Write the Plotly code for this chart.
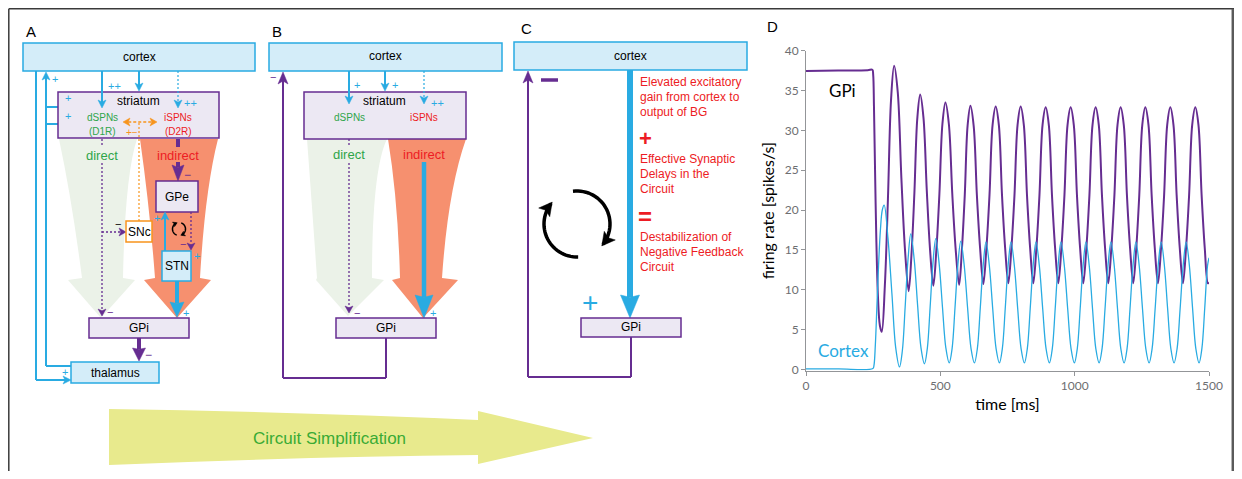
import math
import plotly.graph_objects as go

# page shows the figure with the default 8px body margin
OFF = 8
W, H = 1242 - 2 * OFF, 479 - 2 * OFF

# ---------------- Panel D data ----------------
gpi_t = [0, 120, 230, 247, 250, 253, 257, 262, 268, 275, 282,
         293.5, 305, 316.5, 328, 341.5, 355, 368.5, 382,
         392.75, 403.5, 414.25, 425, 437.25, 449.5, 461.75, 474,
         485.25, 496.5, 507.75, 519, 531.75, 544.5, 557.25, 570,
         580.5, 591, 601.5, 612, 624, 636, 648, 660,
         671.5, 683, 694.5, 706, 717.75, 729.5, 741.25, 753,
         764.5, 776, 787.5, 799, 810.75, 822.5, 834.25, 846,
         857.5, 869, 880.5, 892, 903.75, 915.5, 927.25, 939,
         950.5, 962, 973.5, 985, 996.75, 1008.5, 1020.25, 1032,
         1043.5, 1055, 1066.5, 1078, 1089.75, 1101.5, 1113.25, 1125,
         1136.5, 1148, 1159.5, 1171, 1182.75, 1194.5, 1206.25, 1218,
         1229.25, 1240.5, 1251.75, 1263, 1274.75, 1286.5, 1298.25, 1310,
         1321.5, 1333, 1344.5, 1356, 1367.75, 1379.5, 1391.25, 1403,
         1414.5, 1426, 1437.5, 1449, 1460.75, 1472.5, 1484.25, 1496, 1500]
gpi_v = [37.45, 37.5, 37.55, 37.6, 37.0, 33.0, 25.0, 16.0, 9.0, 5.5, 4.7,
         10.5, 21.4, 33.8, 38.1, 34.8, 24.0, 15.0, 9.8,
         14.5, 22.2, 31.5, 34.5, 31.6, 22.5, 15.0, 10.5,
         15.0, 22.0, 30.8, 33.5, 30.8, 22.0, 15.0, 10.6,
         15.2, 21.9, 30.6, 33.1, 30.6, 21.9, 15.2, 10.7,
         15.2, 21.9, 30.7, 33.0, 30.7, 21.9, 15.2, 10.8,
         15.2, 21.9, 30.7, 33.0, 30.7, 21.9, 15.2, 10.8,
         15.2, 21.9, 30.7, 32.9, 30.7, 21.9, 15.2, 10.8,
         15.2, 21.9, 30.7, 32.9, 30.7, 21.9, 15.2, 10.8,
         15.2, 21.9, 30.7, 32.9, 30.7, 21.9, 15.2, 10.8,
         15.2, 21.9, 30.7, 32.9, 30.7, 21.9, 15.2, 10.8,
         15.2, 21.9, 30.7, 32.9, 30.7, 21.9, 15.2, 10.8,
         15.2, 21.9, 30.7, 32.9, 30.7, 21.9, 15.2, 10.8,
         15.2, 21.9, 30.7, 32.9, 30.7, 21.9, 15.2, 10.8, 10.9]

ctx_t = [0, 120, 249, 253, 258, 264, 270, 277, 284, 291,
         305, 320, 334, 348,
         358.5, 369, 379.5, 390, 403, 415.5, 428, 441,
         451.5, 462, 472.5, 483, 495.5, 508, 520.5, 533,
         543.75, 554.5, 565.25, 576, 588.75, 601.5, 614.25, 627,
         637.75, 648.5, 659.25, 670, 682.5, 695, 707.5, 720,
         730.75, 741.5, 752.25, 763, 775.5, 788, 800.5, 813,
         823.75, 834.5, 845.25, 856, 868.5, 881, 893.5, 906,
         916.75, 927.5, 938.25, 949, 961.5, 974, 986.5, 999,
         1009.75, 1020.5, 1031.25, 1042, 1054.25, 1066.5, 1078.75, 1091,
         1102, 1113, 1124, 1135, 1147.25, 1159.5, 1171.75, 1184,
         1195, 1206, 1217, 1228, 1240.25, 1252.5, 1264.75, 1277,
         1288.25, 1299.5, 1310.75, 1322, 1334, 1346, 1358, 1370,
         1381.25, 1392.5, 1403.75, 1415, 1427, 1439, 1451, 1463,
         1473.5, 1484, 1494.5, 1500]
ctx_v = [0.05, 0.05, 0.1, 0.5, 3.0, 8.0, 13.0, 17.5, 20.0, 20.6,
         16.5, 9.4, 2.7, 0.3,
         2.3, 7.8, 13.7, 17.0, 13.7, 8.0, 2.7, 0.7,
         2.6, 7.8, 13.3, 16.4, 13.3, 7.8, 2.7, 0.8,
         2.6, 7.7, 13.1, 16.1, 13.1, 7.7, 2.6, 0.8,
         2.6, 7.6, 13.0, 16.0, 13.0, 7.6, 2.6, 0.8,
         2.6, 7.6, 13.0, 16.0, 13.0, 7.6, 2.6, 0.8,
         2.6, 7.6, 13.0, 16.0, 13.0, 7.6, 2.6, 0.8,
         2.6, 7.6, 13.0, 16.0, 13.0, 7.6, 2.6, 0.8,
         2.6, 7.6, 13.0, 16.0, 13.0, 7.6, 2.6, 0.8,
         2.6, 7.6, 13.0, 16.0, 13.0, 7.6, 2.6, 0.8,
         2.6, 7.6, 13.0, 16.0, 13.0, 7.6, 2.6, 0.8,
         2.6, 7.6, 13.0, 16.0, 13.0, 7.6, 2.6, 0.8,
         2.6, 7.6, 13.0, 16.0, 13.0, 7.6, 2.6, 0.8,
         2.6, 7.6, 13.0, 14.0]

x_ticks = [0, 500, 1000, 1500]
y_ticks = [0, 5, 10, 15, 20, 25, 30, 35, 40]

# ---------------- styles ----------------
FONT = "Liberation Sans, Arial, sans-serif"
DFONT = "Lato, Open Sans, sans-serif"
BLUE = "#29abe2"
LBLUE = "#d4edf9"
PURP = "#662d91"
LAV = "#ece8f3"
GREENF = "#ebf2e8"
ORANGEF = "#f6906f"
GREENT = "#2fa54a"
RED = "#ed1c24"
ORANGE = "#f7941d"

shapes = []
annots = []


def rect(x0, y0, x1, y1, fill, color, w=1.5):
    shapes.append(dict(type="rect", xref="x2", yref="y2", x0=x0, y0=y0, x1=x1, y1=y1,
                       fillcolor=fill, line=dict(color=color, width=w), layer="above"))


def seg(x0, y0, x1, y1, color, w=1.5, dash="solid"):
    shapes.append(dict(type="line", xref="x2", yref="y2", x0=x0, y0=y0, x1=x1, y1=y1,
                       line=dict(color=color, width=w, dash=dash), layer="above"))


def poly(pts, fill, color=None, w=0, closed=True):
    p = "M " + " L ".join(f"{x:.2f},{y:.2f}" for x, y in pts) + (" Z" if closed else "")
    d = dict(type="path", xref="x2", yref="y2", path=p, layer="above",
             line=dict(color=color or fill, width=w))
    if closed:
        d["fillcolor"] = fill
    shapes.append(d)


def path(p, fill, color=None, w=0):
    shapes.append(dict(type="path", xref="x2", yref="y2", path=p, layer="above",
                       fillcolor=fill, line=dict(color=color or fill, width=w)))


def head(tx, ty, ux, uy, color, L=8, Wd=4, notch=0.25):
    bx, by = tx - ux * L, ty - uy * L
    px, py = -uy, ux
    nx, ny = tx - ux * L * (1 - notch), ty - uy * L * (1 - notch)
    poly([(tx, ty), (bx + px * Wd, by + py * Wd), (nx, ny), (bx - px * Wd, by - py * Wd)],
         color, color, 0.5)


def arrow(x0, y0, x1, y1, color, w=1.5, L=8, Wd=4, dash="solid", notch=0.25, both=False):
    dx, dy = x1 - x0, y1 - y0
    d = math.hypot(dx, dy)
    ux, uy = dx / d, dy / d
    sx, sy = x0, y0
    if both:
        sx, sy = x0 + ux * L * (1 - notch), y0 + uy * L * (1 - notch)
        head(x0, y0, -ux, -uy, color, L, Wd, notch)
    seg(sx, sy, x1 - ux * L * (1 - notch), y1 - uy * L * (1 - notch), color, w, dash)
    head(x1, y1, ux, uy, color, L, Wd, notch)


def polyline(pts, color, w=1.5, dash="solid"):
    for (a, b), (c, d) in zip(pts[:-1], pts[1:]):
        seg(a, b, c, d, color, w, dash)


def arc(cx, cy, r, a0, a1, color, w, L, Wd, tipext):
    n = 30
    pts = []
    for i in range(n + 1):
        a = math.radians(a0 + (a1 - a0) * i / n)
        pts.append((cx + r * math.cos(a), cy + r * math.sin(a)))
    poly(pts, None, color, w, closed=False)
    a = math.radians(a1)
    s = 1 if a1 > a0 else -1
    ux, uy = -math.sin(a) * s, math.cos(a) * s
    ex, ey = pts[-1]
    head(ex + ux * tipext, ey + uy * tipext, ux, uy, color, L, Wd, 0.2)


def txt(x, y, s, size=12, color="black", anchor="center", family=FONT):
    annots.append(dict(xref="x2", yref="y2", x=x, y=y, text=s, showarrow=False,
                       xanchor=anchor, yanchor="middle",
                       font=dict(family=family, size=size, color=color)))


# ---------------- outer frame ----------------
seg(8.8, 8.8, 1234, 8.8, "#3a3a3a", 1.5)
seg(8.8, 8.8, 8.8, 479, "#3a3a3a", 1.5)
seg(1232.8, 8.8, 1232.8, 479, "#5a5a5a", 2.5)

# panel letters
txt(31, 31, "A", 15)
txt(277, 31, "B", 15)
txt(526, 28, "C", 15)
txt(772, 26, "D", 15)

# ================= Panel A =================
path("M 59,139 Q 72,200 82,278 L 68,280 L 101,318 L 135,280 L 123,278 Q 125,175 137,139 Z", GREENF)
path("M 140,139 Q 150,210 155,278 L 144,280 L 177,318 L 211,280 L 200,278 Q 205,190 218,139 Z", ORANGEF)

polyline([(36, 71), (36, 380)], BLUE, 2)
arrow(36, 380, 71, 380, BLUE, 2, 8, 4)
polyline([(46, 366), (71, 366)], BLUE, 2)
arrow(46, 366, 46, 72, BLUE, 2, 8, 4)
arrow(46, 107, 73, 107, BLUE, 2, 8, 4)
arrow(46, 124, 73, 124, BLUE, 2, 8, 4)
txt(55, 79, "+", 11, BLUE)
txt(68, 98, "+", 11, BLUE)
txt(68, 116, "+", 11, BLUE)
txt(65, 372, "+", 11, BLUE)

rect(23, 43, 255, 71, LBLUE, BLUE)
txt(139, 57, "cortex", 12)
rect(58, 92, 219, 138, LAV, PURP)
txt(138, 101, "striatum", 12)
txt(102, 117, "dSPNs", 10, GREENT)
txt(102, 131, "(D1R)", 10, GREENT)
txt(178, 117, "iSPNs", 10, RED)
txt(178, 131, "(D2R)", 10, RED)

arrow(102, 71, 102, 108, BLUE, 2, 8, 4)
arrow(139, 71, 139, 91, BLUE, 2, 8, 4)
arrow(178, 71, 178, 108, BLUE, 1.2, 8, 4, dash="2px,2px")
txt(114, 86, "++", 11, BLUE)
txt(190, 103, "++", 11, BLUE)

arrow(123, 122, 157, 122, ORANGE, 1.5, 7, 4, dash="3px,2px", both=True)
seg(139, 123, 139, 221, ORANGE, 1.2, "2px,2px")
txt(132, 132, "+−", 10, ORANGE)

txt(102, 155, "direct", 13, GREENT)
txt(178, 155, "indirect", 13, RED)

seg(102, 139, 102, 147, PURP, 1.3, "2px,2px")
arrow(102, 163, 102, 316, PURP, 1.3, 7, 4, dash="2px,2px")
arrow(102, 232, 126, 232, PURP, 1.3, 7, 4, dash="2px,2px")
txt(110, 312, "−", 11, PURP)
txt(118, 224, "−", 11, "black")

rect(126, 221, 152, 242, "white", ORANGE)
txt(139, 232, "SNc", 12)

seg(178, 139, 178, 147, PURP, 4)
arrow(178, 162, 178, 181, PURP, 4, 16, 6, notch=0.15)
txt(187, 175, "−", 12, PURP)
rect(156, 181, 198, 212, LAV, PURP)
txt(177, 197, "GPe", 12)

rect(162, 251, 191, 281, LBLUE, BLUE)
txt(177, 266, "STN", 12)
arrow(165, 251, 165, 212, BLUE, 2, 8, 4)
txt(157, 218, "+", 11, BLUE)
arrow(191, 212, 191, 250, PURP, 1.3, 7, 4, dash="2px,2px")
txt(183, 244, "−", 11, PURP)
txt(197, 256, "+", 11, BLUE)
arc(179, 229, 6.5, 110, 245, "black", 1.5, 4, 2.5, 1)
arc(179, 229, 6.5, -70, 65, "black", 1.5, 4, 2.5, 1)

arrow(177, 281, 177, 317, BLUE, 4, 15, 7, notch=0.1)
txt(186, 313, "+", 11, BLUE)

rect(89, 318, 189, 338, LAV, PURP)
txt(139, 328, "GPi", 12)
arrow(139, 338, 139, 361, PURP, 4, 13, 6.5, notch=0.1)
txt(148, 355, "−", 12, PURP)
rect(71, 362, 159, 383, LBLUE, BLUE)
txt(115, 373, "thalamus", 12)

# ================= Panel B =================
path("M 307,139 Q 313,220 317,278 L 316,280 L 348,316 L 384,280 L 372,278 Q 372,170 387,139 Z", GREENF)
path("M 388,139 Q 398,200 400,278 L 392,280 L 423,318 L 458,280 L 442,278 Q 448,190 466,139 Z", ORANGEF)

rect(269, 43, 502, 71, LBLUE, BLUE)
txt(385, 56, "cortex", 12)
rect(304, 92, 466, 139, LAV, PURP)
txt(384, 101, "striatum", 12)
txt(349, 117, "dSPNs", 10, GREENT)
txt(424, 117, "iSPNs", 10, RED)

arrow(349, 71, 349, 104, BLUE, 2, 8, 4)
arrow(385, 71, 385, 91, BLUE, 2, 8, 4)
arrow(424, 71, 424, 104, BLUE, 1.2, 8, 4, dash="2px,2px")
txt(357, 85, "+", 11, BLUE)
txt(395, 85, "+", 11, BLUE)
txt(437, 103, "++", 11, BLUE)

txt(349, 154, "direct", 13, GREENT)
txt(424, 154, "indirect", 13, RED)

seg(349, 139, 349, 146, PURP, 1.3, "2px,2px")
arrow(349, 163, 349, 313, PURP, 1.3, 7, 4, dash="2px,2px")
txt(357, 313, "−", 11, PURP)
arrow(424, 162, 424, 318, BLUE, 4.5, 23, 9, notch=0.1)
txt(433, 313, "+", 11, BLUE)

rect(336, 318, 436, 338, LAV, PURP)
txt(386, 328, "GPi", 12)
polyline([(386, 338), (386, 378), (283, 378), (283, 90)], PURP, 2)
arrow(283, 100, 283, 72, PURP, 2, 12, 5)
txt(273, 77, "−", 11, PURP)

# ================= Panel C =================
rect(514, 42, 747, 70, LBLUE, BLUE)
txt(630, 56, "cortex", 12)
arrow(630, 70, 630, 318, BLUE, 6, 23, 9.5, notch=0.1)
rect(581, 318, 681, 337, LAV, PURP)
txt(631, 327, "GPi", 12)
polyline([(631, 337), (631, 377), (528, 377), (528, 90)], PURP, 2)
arrow(528, 100, 528, 71, PURP, 2, 12, 5)
seg(541, 80, 558, 80, PURP, 3.5)
txt(590, 302, "+", 28, BLUE)

for yy, s in [(82, "Elevated excitatory"), (97, "gain from cortex to"), (112, "output of BG"),
              (159, "Effective Synaptic"), (174, "Delays in the"), (189, "Circuit"),
              (237, "Destabilization of"), (252, "Negative Feedback"), (267, "Circuit")]:
    txt(638, yy, s, 12, RED, anchor="left")
txt(645, 138, "<b>+</b>", 22, RED)
txt(645, 216, "<b>=</b>", 24, RED)

arc(577, 224, 33, -97, 38, "black", 3.5, 13, 7, 2)
arc(577, 224, 33, 88, 218, "black", 3.5, 13, 7, 2)

# ================= Circuit simplification arrow =================
path("M 109,409 Q 300,412 478,420 L 478,411 L 593,438 L 478,464 L 478,455 Q 300,457 109,465 Z", "#e8ea8d")
txt(329, 438, "Circuit Simplification", 17, "#3aaa35")

# ================= Figure =================
fig = go.Figure()
fig.add_trace(go.Scatter(x=gpi_t, y=gpi_v, mode="lines", xaxis="x", yaxis="y",
                         line=dict(color=PURP, width=2, shape="spline", smoothing=1),
                         hoverinfo="skip", showlegend=False))
fig.add_trace(go.Scatter(x=ctx_t, y=ctx_v, mode="lines", xaxis="x", yaxis="y",
                         line=dict(color=BLUE, width=1.3, shape="spline", smoothing=1),
                         hoverinfo="skip", showlegend=False))
fig.add_trace(go.Scatter(x=[], y=[], xaxis="x2", yaxis="y2", showlegend=False, hoverinfo="skip"))

annots.append(dict(xref="x", yref="y", x=135, y=35, text="GPi", showarrow=False,
                   font=dict(family=DFONT, size=17, color="black")))
annots.append(dict(xref="x", yref="y", x=138, y=2.3, text="Cortex", showarrow=False,
                   font=dict(family=DFONT, size=17, color=BLUE)))


def px_x(X):
    return (X - OFF) / W


def px_y(Y):
    return 1 - (Y - OFF) / H


axis_common = dict(showgrid=False, zeroline=False, showline=True, linecolor="#939598",
                   linewidth=1, ticks="outside", ticklen=4, tickcolor="#939598", automargin=False,
                   tickfont=dict(family=DFONT, size=12, color="#6d6e71"))
fig.update_layout(
    template="none",
    width=W, height=H, autosize=False, showlegend=False,
    margin=dict(l=0, r=0, t=0, b=0, pad=0, autoexpand=False),
    paper_bgcolor="white", plot_bgcolor="rgba(0,0,0,0)",
    xaxis=dict(domain=[px_x(806), px_x(1209)], range=[0, 1500], tickvals=x_ticks, anchor="y",
               title=dict(text="time [ms]", font=dict(family=DFONT, size=16, color="black"), standoff=6),
               **axis_common),
    yaxis=dict(domain=[px_y(370.5), px_y(50.7)], range=[-0.15, 40], tickvals=y_ticks, anchor="x",
               title=dict(text="firing rate [spikes/s]", font=dict(family=DFONT, size=16, color="black"), standoff=6),
               **axis_common),
    xaxis2=dict(domain=[0, 1], range=[OFF, OFF + W], visible=False, anchor="y2", fixedrange=True, automargin=False),
    yaxis2=dict(domain=[0, 1], range=[OFF + H, OFF], visible=False, anchor="x2", fixedrange=True, automargin=False),
    shapes=shapes,
    annotations=annots,
)

fig.write_html("out.html", config=dict(displayModeBar=False))
